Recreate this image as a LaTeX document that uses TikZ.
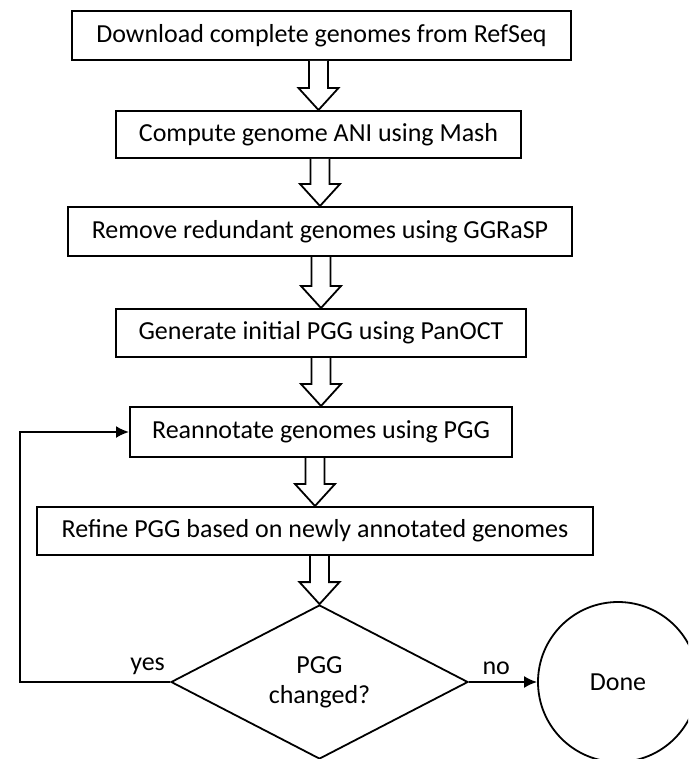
\documentclass[tikz,border=0pt]{standalone}
\usepackage{fontspec}
\setmainfont{Carlito}
\usetikzlibrary{arrows.meta}
\usetikzlibrary{calc,shapes.geometric}
\tikzset{stepbox/.style={draw=black, line width=2pt, rectangle, inner sep=0pt},
         txt/.style={font=\fontsize{26}{30}\selectfont},
         flowline/.style={black, line width=2pt, -{Latex[length=13pt,width=12pt]}}}
\newcommand{\fatarrow}[2]{\draw[black, line width=1.8pt, fill=white] let \p1=(#1.south), \p2=(#2.north) in (\x2-9.5,\y1) -- (\x2-9.5,\y2+22) -- (\x2-20,\y2+22) -- (\x2,\y2) -- (\x2+20,\y2+22) -- (\x2+9.5,\y2+22) -- (\x2+9.5,\y1);}

\begin{document}
\begin{tikzpicture}  [x=1pt, y=-1pt, txt]
\clip (0,0) rectangle (688,759);
\node[stepbox, minimum width=499, minimum height=49] (b1) at (321.5,35.5) {Download complete genomes from RefSeq};
\node[stepbox, minimum width=405, minimum height=47] (b2) at (318.5,134.5) {Compute genome ANI using Mash};
\node[stepbox, minimum width=504, minimum height=49] (b3) at (320,231.5) {Remove redundant genomes using GGRaSP};
\node[stepbox, minimum width=410, minimum height=48] (b4) at (321,333) {Generate initial PGG using PanOCT};
\node[stepbox, minimum width=382, minimum height=50] (b5) at (321,432) {Reannotate genomes using PGG};
\node[stepbox, minimum width=556, minimum height=48] (b6) at (315,531) {Refine PGG based on newly annotated genomes};
\node[draw, line width=1.8pt, diamond, aspect=1.93, inner sep=0pt, minimum width=297, minimum height=154, align=center] (dec) at (319.5,682) {PGG\\changed?};
\node[draw, line width=1.8pt, circle, minimum size=160] (done) at (618,682) {Done};
\coordinate (turn) at (20,682);

\fatarrow{b1}{b2}
\fatarrow{b2}{b3}
\fatarrow{b3}{b4}
\fatarrow{b4}{b5}
\fatarrow{b5}{b6}
\fatarrow{b6}{dec}

\draw[flowline] (dec.west) -- node[above, pos=.15, yshift=3] {yes} (turn) |- (b5.west);
\draw[flowline] (dec.east) -- node[above, pos=.4, yshift=3] {no} (done.west);
\end{tikzpicture}
\end{document}
